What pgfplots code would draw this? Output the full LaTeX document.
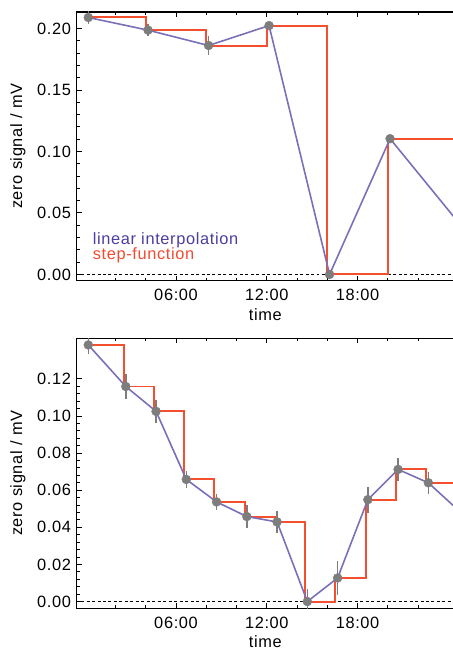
\documentclass[border=0pt]{standalone}
\usepackage{fontspec}
\setmainfont{Liberation Sans}[LetterSpace=4]
\usepackage{pgfplots}
\pgfplotsset{compat=1.18}
\usepackage{pgfplotstable}

\definecolor{linpurple}{HTML}{7A70B8}
\definecolor{stepred}{HTML}{F4502F}
\definecolor{legpurple}{HTML}{4A3E9E}
\definecolor{legred}{HTML}{F24A30}
\definecolor{markgray}{HTML}{7D7D7D}

% top panel: value, error
\pgfplotstableread{
x     y      e
0.20  0.2090 0.005
4.15  0.1987 0.005
8.15  0.1862 0.008
12.15 0.2024 0.003
16.15 0.0000 0.004
20.15 0.1104 0.003
}\toptab

% bottom panel
\pgfplotstableread{
x     y      e
0.20  0.1383 0.0050
2.68  0.1159 0.0070
4.68  0.1025 0.0063
6.68  0.0658 0.0047
8.68  0.0537 0.0043
10.68 0.0458 0.0063
12.68 0.0429 0.0058
14.68 0.0000 0.0065
16.68 0.0127 0.0090
18.68 0.0549 0.0070
20.68 0.0712 0.0060
22.68 0.0640 0.0060
}\bottab

\pgfplotsset{
  panel/.style={
    scale only axis, width=379bp,
    xmin=-0.57, xmax=24.37,
    xtick={6,12,18}, xticklabels={06:00,12:00,18:00},
    minor xtick={2,4,8,10,14,16,20,22},
    tick align=inside,
    xtick pos=both, ytick pos=left,
    major tick length=5bp, minor tick length=3bp,
    axis line style={line width=1.4bp},
    every tick/.style={black, line width=1bp},
    scaled y ticks=false,
    /pgf/number format/assume math mode=true,
    yticklabel style={/pgf/number format/.cd, fixed, fixed zerofill, precision=2},
    xticklabel style={yshift=-3bp},
    xlabel={time}, ylabel={zero signal / mV},
    xlabel style={inner sep=0pt, yshift=-2bp},
    ylabel style={at={(axis description cs:-0.1557,0.5)}, anchor=center},
  },
  zeroline/.style={black, line width=1.1bp, dash pattern=on 3bp off 2.5bp, forget plot},
  stepline/.style={stepred, line width=2bp},
  linline/.style={linpurple, line width=1.6bp},
  pts/.style={only marks, mark=*, mark size=4.5bp, markgray,
    mark options={draw=markgray, fill=markgray},
    error bars/.cd, y dir=both, y explicit,
    error mark=none, error bar style={markgray, line width=1.4bp}},
}

\begin{document}
\fontsize{16.5}{19}\selectfont
\begin{tikzpicture}
\begin{axis}[panel, name=top, at={(0,0)}, anchor=north west,
    height=270bp, ymin=-0.0051, ymax=0.2135,
    ytick={0,0.05,0.10,0.15,0.20}, minor y tick num=4]
  \addplot[zeroline] coordinates {(-1,0) (26,0)};
  \addplot[stepline] coordinates {
    (0.20,0.2090) (4.0,0.2090) (4.0,0.1987) (8.0,0.1987) (8.0,0.1862)
    (12.0,0.1862) (12.0,0.2024) (16.0,0.2024) (16.0,0) (20.0,0)
    (20.0,0.1104) (25,0.1104)};
  \addplot[linline] coordinates {
    (0.20,0.2090) (4.15,0.1987) (8.15,0.1862) (12.15,0.2024)
    (16.15,0) (20.15,0.1104) (25,0.0373)};
  \addplot[pts] table[x=x, y=y, y error=e] {\toptab};
  \pgfplotsinvokeforeach{0,0.05,0.10,0.15,0.20}{
    \draw[black, line width=1bp] ({rel axis cs:1,0}|-{axis cs:0,#1}) -- ++(-5bp,0);}
  \node[anchor=base west, inner sep=0, text=legpurple] at (rel axis cs:0.0422,0.134) {linear interpolation};
  \node[anchor=base west, inner sep=0, text=legred] at (rel axis cs:0.0422,0.079) {step-function};
\end{axis}
\begin{axis}[panel, name=bot, at={(0,-328bp)}, anchor=north west,
    height=271bp, ymin=-0.0036, ymax=0.1418,
    ytick={0,0.02,0.04,0.06,0.08,0.10,0.12}, minor y tick num=4]
  \addplot[zeroline] coordinates {(-1,0) (26,0)};
  \addplot[stepline] coordinates {
    (0.20,0.1383) (2.53,0.1383) (2.53,0.1159) (4.53,0.1159) (4.53,0.1025)
    (6.53,0.1025) (6.53,0.0658) (8.53,0.0658) (8.53,0.0537) (10.53,0.0537)
    (10.53,0.0458) (12.53,0.0458) (12.53,0.0429) (14.53,0.0429) (14.53,0)
    (16.53,0) (16.53,0.0127) (18.53,0.0127) (18.53,0.0549) (20.53,0.0549)
    (20.53,0.0712) (22.53,0.0712) (22.53,0.0640) (25,0.0640)};
  \addplot[linline] coordinates {
    (0.20,0.1383) (2.68,0.1159) (4.68,0.1025) (6.68,0.0658) (8.68,0.0537)
    (10.68,0.0458) (12.68,0.0429) (14.68,0) (16.68,0.0127) (18.68,0.0549)
    (20.68,0.0712) (22.68,0.0640) (25,0.0467)};
  \addplot[pts] table[x=x, y=y, y error=e] {\bottab};
  \pgfplotsinvokeforeach{0,0.02,0.04,0.06,0.08,0.10,0.12}{
    \draw[black, line width=1bp] ({rel axis cs:1,0}|-{axis cs:0,#1}) -- ++(-5bp,0);}
\end{axis}
\pgfresetboundingbox
\path (-77bp,12bp) rectangle (378bp,-644bp);
\end{tikzpicture}
\end{document}
